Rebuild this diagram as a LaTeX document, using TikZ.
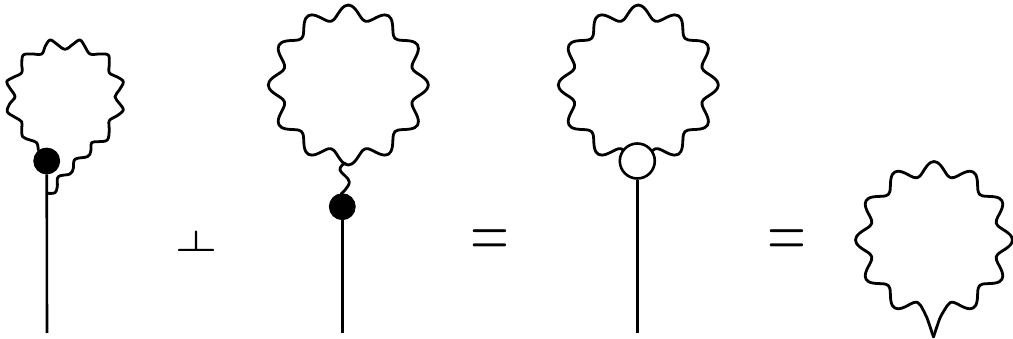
\documentclass[tikz,border=0pt]{standalone}
\tikzset{
  x=1pt,y=-1pt,
  wave/.style={line width=2.8pt,black,line join=round,line cap=round},
  stem/.style={line width=2.6pt,black},
  fullblob/.style={circle,fill=black,draw=black,line width=0.8pt,inner sep=0pt,minimum size=26pt},
  openblob/.style={circle,fill=white,draw=black,line width=2.6pt,inner sep=0pt,minimum size=35pt},
  eqsym/.style={inner sep=0pt,black,xscale=5,yscale=7.3},
  perpsym/.style={inner sep=0pt,black,xscale=5.4,yscale=2.9}
}
\begin{document}
\begin{tikzpicture}
\useasboundingbox (0,0) rectangle (1013,339);
% first diagram: tadpole with wavy line ending on the stem
\node[fullblob] (b1) at (46.7,161) {};
\coordinate (e1) at (47,333);
\draw[stem] (b1) -- (e1);
\draw[wave] plot[smooth,tension=0.6] coordinates {
(38.3,150)(36.7,142.7)(30,140)(22.7,136.7)(21.7,128.3)(21.7,121.7)(15,117.3)(7.3,111.7)(10,103.3)(15,96.7)(10,88.3)(6.7,81.7)(13.3,77.3)(21.7,72.7)(21.7,63.3)(23.3,55)(31.7,54)(41.7,54)(45,46.7)(50,40)(56.7,44)(65,49.3)(73.3,44)(80,40)(85,46.7)(90,54)(100,54)(108.3,55)(109.3,63.3)(109.3,72.7)(116.7,76.7)(123.3,81.7)(119.3,90)(115,96.7)(119.3,103.3)(123.3,110)(116.7,116)(109.3,120.7)(109.3,130)(107.3,140)(98.3,141.7)(91.7,142.7)(90.7,151.7)(87.3,156.7)(75,159.3)(73.3,168.3)(70,174)(58.3,176.7)(57.3,186.7)(55,192.7)(48,193.3)};
% second diagram
\draw[wave,domain=0:360,samples=145,smooth] plot ({348.3+(73+7*cos(12*\x))*cos(\x)},{85+(73+7*cos(12*\x))*sin(\x)});
\node[fullblob] (b2) at (342.3,206.7) {};
\coordinate (e2) at (342.3,333);
\draw[stem] (b2) -- (e2);
\draw[wave] plot[smooth,tension=0.7] coordinates {(345,163)(340,170)(349.3,182)(341,194)};
% third diagram
\draw[wave,domain=0:360,samples=145,smooth] plot ({638.3+(73+7*cos(12*\x))*cos(\x)},{85+(73+7*cos(12*\x))*sin(\x)});
\node[openblob] (b3) at (637.3,161) {};
\coordinate (e3) at (637.3,333);
\draw[stem] (b3) -- (e3);
% fourth diagram
\draw[wave,domain=105:435,samples=133,smooth] plot ({934+(71.5+7*cos(12*\x))*cos(\x)},{240+(71.5+7*cos(12*\x))*sin(\x)});
\coordinate (spike) at (933.5,337);
\draw[wave] plot[smooth,tension=0.4] coordinates {(950.7,302.3)(947,306)(940,318)(933.5,337)};
\draw[wave] plot[smooth,tension=0.4] coordinates {(917.3,302.3)(921,306)(927,318)(933.5,337)};
% symbols
\node[perpsym] (s1) at (196,240.5) {\rlap{$\perp$}\raisebox{0.3pt}{$\perp$}};
\node[eqsym] (s2) at (490,243.5) {$=$};
\node[eqsym] (s3) at (787,243.5) {$=$};
\end{tikzpicture}
\end{document}
